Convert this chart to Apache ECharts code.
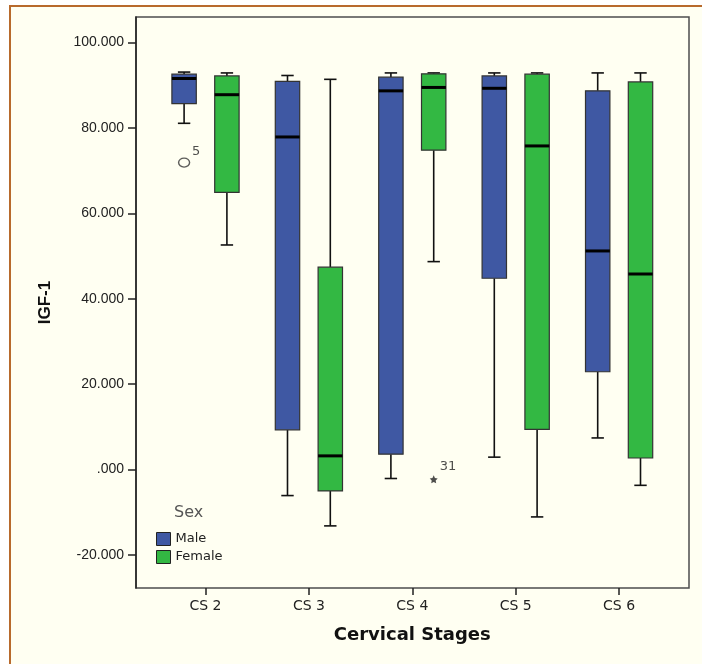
<!DOCTYPE html>
<html>
<head>
<meta charset="utf-8">
<script src="https://cdn.jsdelivr.net/npm/echarts@6/dist/echarts.min.js"></script>
<style>
  html, body { margin: 0; padding: 0; background: #ffffff; }
  #chart { width: 702px; height: 664px; }
</style>
</head>
<body>
<div id="chart"></div>
<script>
// stages on the x axis
var stages = ['CS 2', 'CS 3', 'CS 4', 'CS 5', 'CS 6'];

// male box values
var maleLow    = [81.1, -6.1, -2.1, 2.9, 7.4];
var maleQ1     = [85.7, 9.3, 3.6, 44.8, 22.9];
var maleMedian = [91.6, 77.9, 88.7, 89.3, 51.2];
var maleQ3     = [92.6, 90.9, 91.9, 92.2, 88.7];
var maleHigh   = [93.1, 92.3, 92.9, 92.9, 92.9];

// female box values
var femaleLow    = [52.6, -13.2, 48.7, -11.1, -3.7];
var femaleQ1     = [64.9, -5.0, 74.8, 9.4, 2.7];
var femaleMedian = [87.8, 3.2, 89.5, 75.8, 45.8];
var femaleQ3     = [92.2, 47.4, 92.7, 92.6, 90.8];
var femaleHigh   = [92.9, 91.4, 92.9, 92.9, 92.9];

// outliers: stage, value, case number
var maleOutStage = ['CS 2'];
var maleOutValue = [71.9];
var maleOutCase  = ['5'];
var femaleOutStage = ['CS 4'];
var femaleOutValue = [-2.3];
var femaleOutCase  = ['31'];

var yTicks = [-20, 0, 20, 40, 60, 80, 100];

var FONT = '"DejaVu Sans", "Liberation Sans", Arial, sans-serif';
var ARIAL = '"Liberation Sans", Arial, sans-serif';
var BLUE = '#3f58a3';
var GREEN = '#33b843';

function boxRows(low, q1, med, q3, high) {
  var rows = [];
  for (var i = 0; i < stages.length; i++) {
    rows.push([i, low[i], q1[i], med[i], q3[i], high[i]]);
  }
  return rows;
}

// draws one box, side = -1 (male) or 1 (female)
function boxRenderer(side, fill) {
  return function (params, api) {
    var band = api.size([1, 0])[0];
    var cat = api.value(0);
    var cx = api.coord([cat, 0])[0] + side * band * 0.207;
    var half = band * 0.118;
    var cap = band * 0.06;
    var yLow = api.coord([cat, api.value(1)])[1];
    var yQ1 = api.coord([cat, api.value(2)])[1];
    var yMed = api.coord([cat, api.value(3)])[1];
    var yQ3 = api.coord([cat, api.value(4)])[1];
    var yHigh = api.coord([cat, api.value(5)])[1];
    var whisk = { stroke: '#111', lineWidth: 1.6 };
    return {
      type: 'group',
      children: [
        { type: 'line', shape: { x1: cx, y1: yHigh, x2: cx, y2: yQ3 }, style: whisk },
        { type: 'line', shape: { x1: cx - cap, y1: yHigh, x2: cx + cap, y2: yHigh }, style: whisk },
        { type: 'line', shape: { x1: cx, y1: yQ1, x2: cx, y2: yLow }, style: whisk },
        { type: 'line', shape: { x1: cx - cap, y1: yLow, x2: cx + cap, y2: yLow }, style: whisk },
        { type: 'rect', shape: { x: cx - half, y: yQ3, width: half * 2, height: yQ1 - yQ3 },
          style: { fill: fill, stroke: '#333', lineWidth: 1.2 } },
        { type: 'line', shape: { x1: cx - half, y1: yMed, x2: cx + half, y2: yMed },
          style: { stroke: '#000', lineWidth: 3 } }
      ]
    };
  };
}

function outlierRows(stage, value, ids) {
  var rows = [];
  for (var i = 0; i < stage.length; i++) rows.push([stage[i], value[i], ids[i]]);
  return rows;
}

var chart = echarts.init(document.getElementById('chart'));

var option = {
  backgroundColor: '#ffffff',
  animation: false,
  graphic: [
    { type: 'rect', z: -10, silent: true,
      shape: { x: 10, y: 6, width: 720, height: 700 },
      style: { fill: '#fffff2', stroke: '#b86a2c', lineWidth: 2 } },
    { type: 'rect', z: 0, silent: true,
      shape: { x: 136, y: 17, width: 553, height: 571 },
      style: { fill: 'none', stroke: '#4d4d4d', lineWidth: 1.5 } }
  ],
  title: {
    text: 'Sex',
    left: 174,
    top: 505,
    padding: 0,
    textStyle: { fontFamily: FONT, fontSize: 16, fontWeight: 'normal', color: '#555' }
  },
  legend: {
    orient: 'vertical',
    left: 156,
    top: 532,
    padding: 0,
    itemGap: 4,
    itemWidth: 14,
    itemHeight: 13,
    textStyle: { fontFamily: FONT, fontSize: 13, color: '#222' },
    data: [
      { name: 'Male', icon: 'rect', itemStyle: { color: BLUE, borderColor: '#222', borderWidth: 1 } },
      { name: 'Female', icon: 'rect', itemStyle: { color: GREEN, borderColor: '#222', borderWidth: 1 } }
    ]
  },
  grid: { left: 153.8, top: 17, width: 517, height: 571 },
  xAxis: {
    type: 'category',
    data: stages,
    boundaryGap: true,
    axisLine: { show: false, onZero: false },
    axisTick: { show: true, alignWithLabel: true, length: 7, lineStyle: { color: '#222', width: 1.5 } },
    axisLabel: { fontFamily: FONT, fontSize: 14, color: '#222', margin: 11 },
    splitLine: { show: false },
    name: 'Cervical Stages',
    nameLocation: 'middle',
    nameGap: 38,
    nameTextStyle: { fontFamily: FONT, fontSize: 18, fontWeight: 'bold', color: '#111' }
  },
  yAxis: {
    type: 'value',
    min: -27.75,
    max: 106,
    offset: 17.8,
    axisLine: { show: true, lineStyle: { color: '#222', width: 1.5 } },
    axisTick: { show: true, length: 8, customValues: yTicks, lineStyle: { color: '#222', width: 1.5 } },
    axisLabel: {
      fontFamily: ARIAL, fontSize: 14, color: '#222', margin: 12,
      customValues: yTicks,
      formatter: function (v) { return v === 0 ? '.000' : v.toFixed(3); }
    },
    splitLine: { show: false },
    name: 'IGF-1',
    nameLocation: 'middle',
    nameGap: 82,
    nameTextStyle: { fontFamily: ARIAL, fontSize: 17, fontWeight: 'bold', color: '#111' }
  },
  series: [
    {
      name: 'Male',
      type: 'custom',
      itemStyle: { color: BLUE },
      encode: { x: 0, y: [1, 2, 3, 4, 5] },
      renderItem: boxRenderer(-1, BLUE),
      data: boxRows(maleLow, maleQ1, maleMedian, maleQ3, maleHigh)
    },
    {
      name: 'Female',
      type: 'custom',
      itemStyle: { color: GREEN },
      encode: { x: 0, y: [1, 2, 3, 4, 5] },
      renderItem: boxRenderer(1, GREEN),
      data: boxRows(femaleLow, femaleQ1, femaleMedian, femaleQ3, femaleHigh)
    },
    {
      name: 'Male outliers',
      type: 'scatter',
      symbol: 'circle',
      symbolSize: [11, 9],
      symbolOffset: [-21.4, 0],
      itemStyle: { color: 'transparent', borderColor: '#333', borderWidth: 1.3 },
      label: {
        show: true, position: [14, -12], fontFamily: FONT, fontSize: 13, color: '#222',
        formatter: function (p) { return p.value[2]; }
      },
      data: outlierRows(maleOutStage, maleOutValue, maleOutCase)
    },
    {
      name: 'Female outliers',
      type: 'scatter',
      symbol: 'path://M0,-10L2.9,-4L9.5,-3.1L4.7,1.5L5.9,8.1L0,5L-5.9,8.1L-4.7,1.5L-9.5,-3.1L-2.9,-4Z',
      symbolSize: 8,
      symbolOffset: [21.4, 0],
      itemStyle: { color: '#222' },
      label: {
        show: true, position: [10, -15], fontFamily: FONT, fontSize: 13, color: '#222',
        formatter: function (p) { return p.value[2]; }
      },
      data: outlierRows(femaleOutStage, femaleOutValue, femaleOutCase)
    }
  ]
};

chart.setOption(option);
</script>
</body>
</html>
